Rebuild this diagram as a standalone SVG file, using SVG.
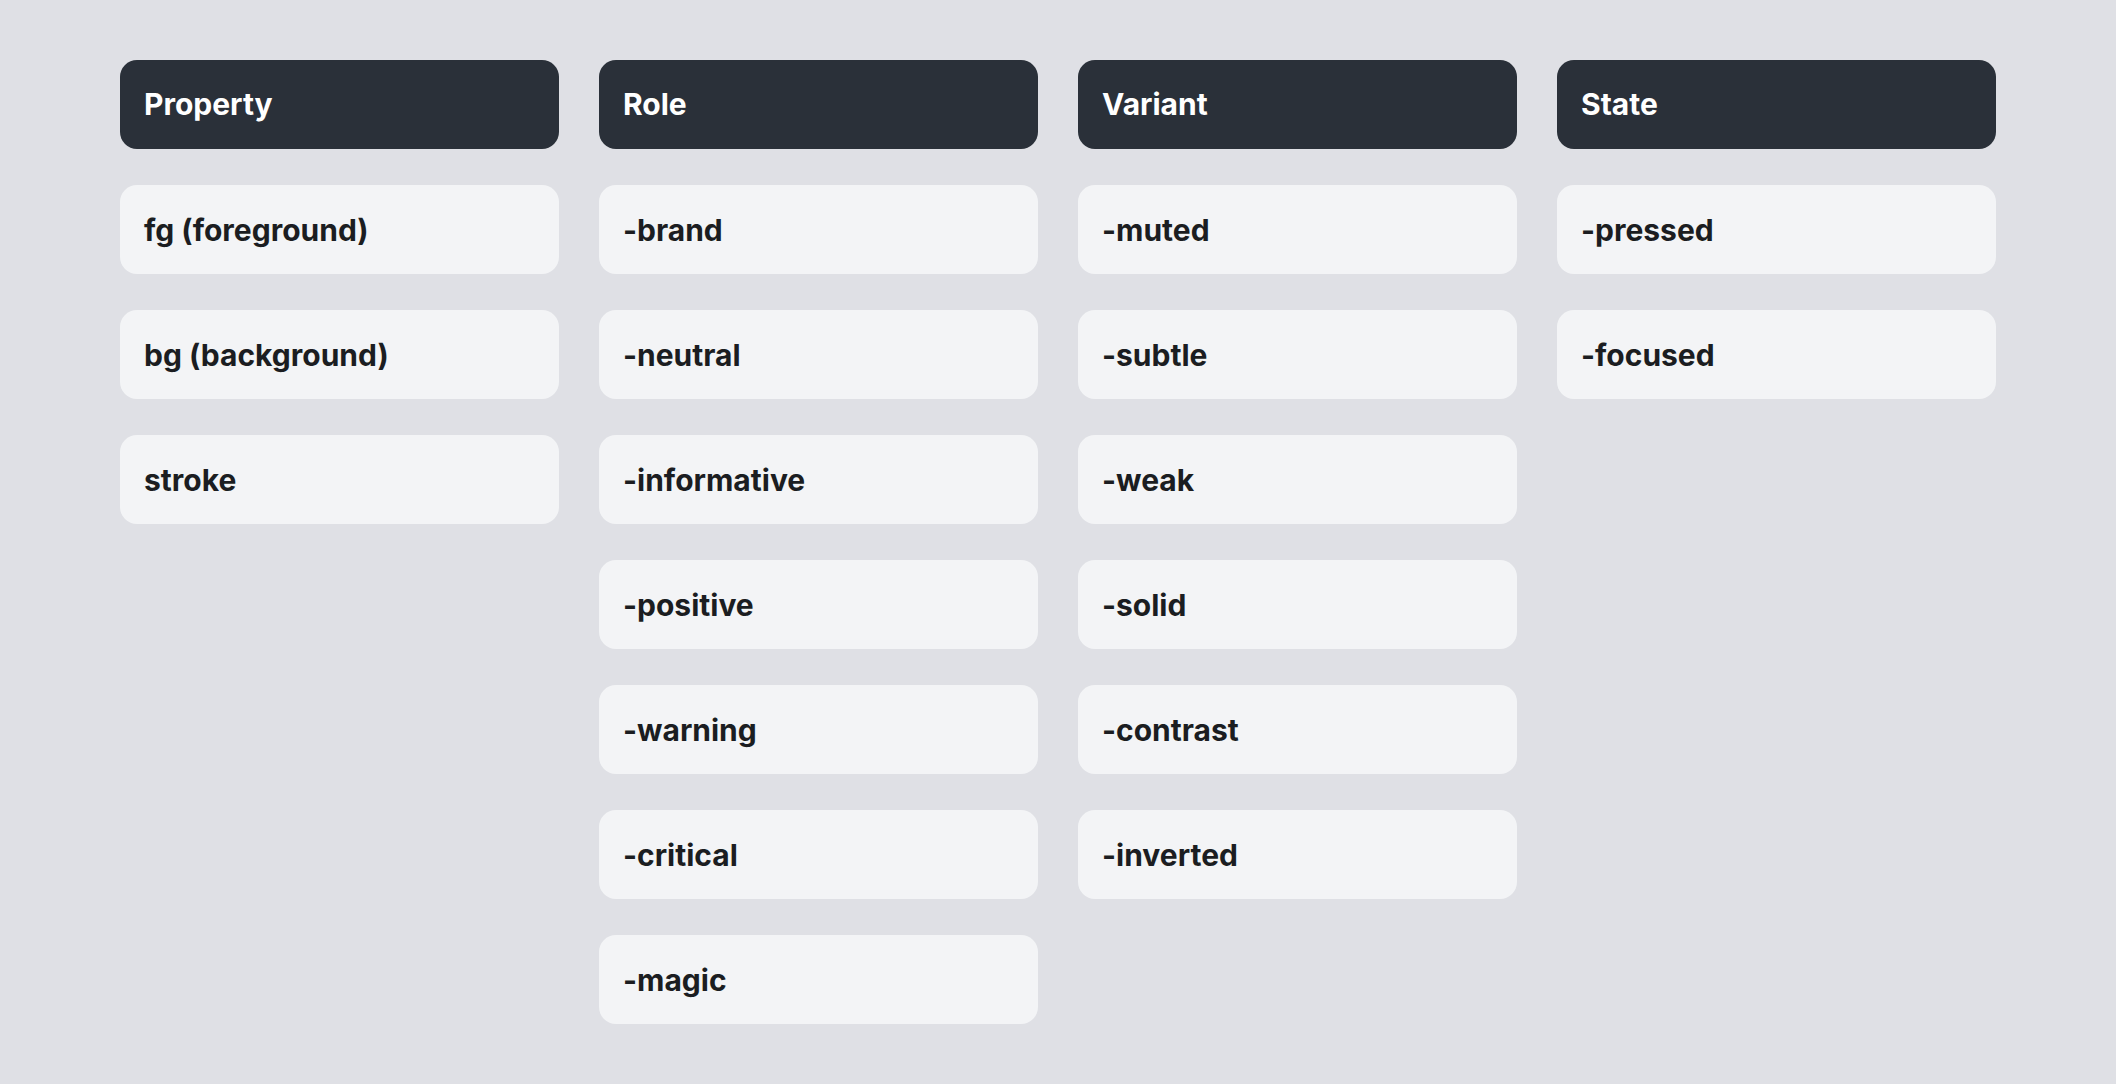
<svg xmlns="http://www.w3.org/2000/svg" width="2116" height="1084" viewBox="0 0 2116 1084">
<style>
.bg{fill:#dfe0e5}
.hd rect{fill:#2a3039}
.hd text{fill:#ffffff}
.it rect{fill:#f3f4f6}
.it text{fill:#1b1d21}
text{font-family:Inter,"Noto Sans","Liberation Sans",sans-serif;font-size:30px;font-weight:700}
</style>
<rect class="bg" x="0" y="0" width="2116" height="1084"/>
<g id="h-property" class="hd"><rect x="120" y="60" width="439" height="89" rx="17"/><text x="144" y="115">Property</text></g>
<g id="h-role" class="hd"><rect x="599" y="60" width="439" height="89" rx="17"/><text x="623" y="115">Role</text></g>
<g id="h-variant" class="hd"><rect x="1078" y="60" width="439" height="89" rx="17"/><text x="1102" y="115">Variant</text></g>
<g id="h-state" class="hd"><rect x="1557" y="60" width="439" height="89" rx="17"/><text x="1581" y="115">State</text></g>

<g id="p-fg" class="it"><rect x="120" y="185" width="439" height="89" rx="17"/><text x="144" y="240.5">fg (foreground)</text></g>
<g id="p-bg" class="it"><rect x="120" y="310" width="439" height="89" rx="17"/><text x="144" y="365.5">bg (background)</text></g>
<g id="p-stroke" class="it"><rect x="120" y="435" width="439" height="89" rx="17"/><text x="144" y="490.5">stroke</text></g>

<g id="r-brand" class="it"><rect x="599" y="185" width="439" height="89" rx="17"/><text x="623" y="240.5">-brand</text></g>
<g id="r-neutral" class="it"><rect x="599" y="310" width="439" height="89" rx="17"/><text x="623" y="365.5">-neutral</text></g>
<g id="r-informative" class="it"><rect x="599" y="435" width="439" height="89" rx="17"/><text x="623" y="490.5">-informative</text></g>
<g id="r-positive" class="it"><rect x="599" y="560" width="439" height="89" rx="17"/><text x="623" y="615.5">-positive</text></g>
<g id="r-warning" class="it"><rect x="599" y="685" width="439" height="89" rx="17"/><text x="623" y="740.5">-warning</text></g>
<g id="r-critical" class="it"><rect x="599" y="810" width="439" height="89" rx="17"/><text x="623" y="865.5">-critical</text></g>
<g id="r-magic" class="it"><rect x="599" y="935" width="439" height="89" rx="17"/><text x="623" y="990.5">-magic</text></g>

<g id="v-muted" class="it"><rect x="1078" y="185" width="439" height="89" rx="17"/><text x="1102" y="240.5">-muted</text></g>
<g id="v-subtle" class="it"><rect x="1078" y="310" width="439" height="89" rx="17"/><text x="1102" y="365.5">-subtle</text></g>
<g id="v-weak" class="it"><rect x="1078" y="435" width="439" height="89" rx="17"/><text x="1102" y="490.5">-weak</text></g>
<g id="v-solid" class="it"><rect x="1078" y="560" width="439" height="89" rx="17"/><text x="1102" y="615.5">-solid</text></g>
<g id="v-contrast" class="it"><rect x="1078" y="685" width="439" height="89" rx="17"/><text x="1102" y="740.5">-contrast</text></g>
<g id="v-inverted" class="it"><rect x="1078" y="810" width="439" height="89" rx="17"/><text x="1102" y="865.5">-inverted</text></g>

<g id="s-pressed" class="it"><rect x="1557" y="185" width="439" height="89" rx="17"/><text x="1581" y="240.5">-pressed</text></g>
<g id="s-focused" class="it"><rect x="1557" y="310" width="439" height="89" rx="17"/><text x="1581" y="365.5">-focused</text></g>
<g id="connectors"/>
</svg>
